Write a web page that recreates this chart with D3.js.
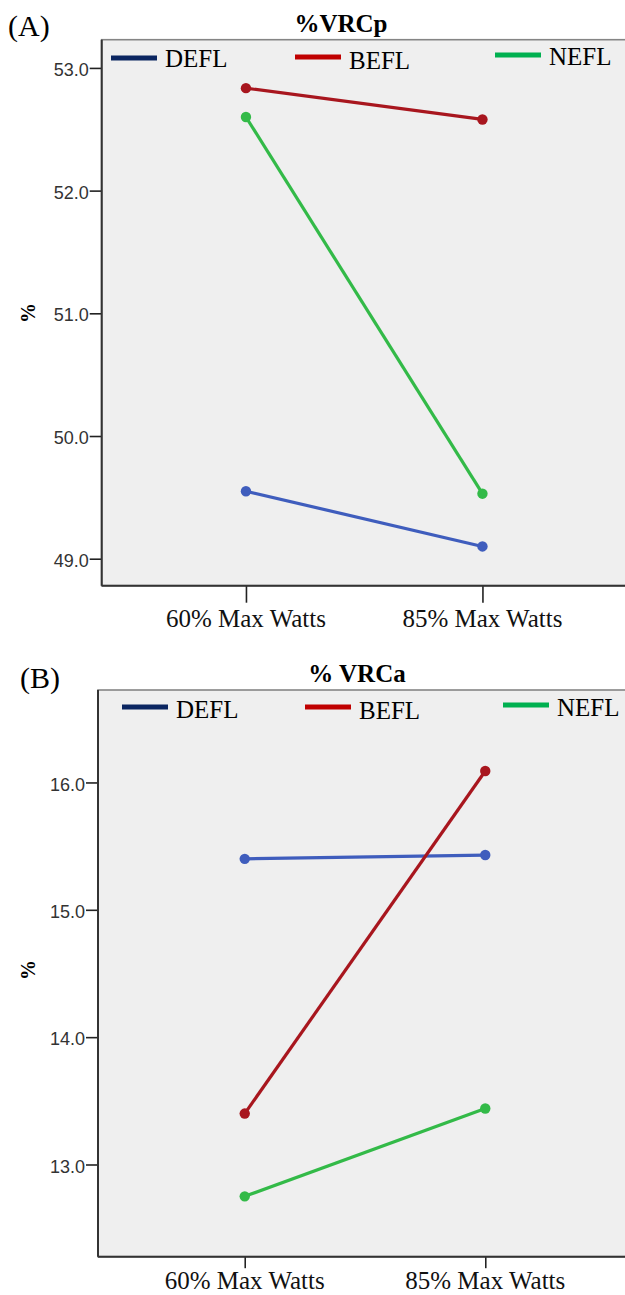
<!DOCTYPE html>
<html>
<head>
<meta charset="utf-8">
<script src="https://cdn.jsdelivr.net/npm/d3@7"></script>
<style>
  html, body { margin: 0; padding: 0; background: #fff; }
  svg { display: block; }
  .tick text { font-family: "Liberation Sans", Arial, sans-serif; }
</style>
</head>
<body>
<svg id="chart" width="625" height="1295"></svg>
<script>
(function() {
    'use strict';

    // data
    var categories = ["60% Max Watts", "85% Max Watts"];
    var groups = ["DEFL", "BEFL", "NEFL"];

    var vrcpDEFL = [49.55, 49.10];
    var vrcpBEFL = [52.835, 52.58];
    var vrcpNEFL = [52.60, 49.53];
    var vrcpTicks = [49, 50, 51, 52, 53];

    var vrcaDEFL = [15.40, 15.43];
    var vrcaBEFL = [13.40, 16.09];
    var vrcaNEFL = [12.75, 13.44];
    var vrcaTicks = [13, 14, 15, 16];

    var lineColor = { DEFL: "#3f5dbd", BEFL: "#a8161e", NEFL: "#33ba48" };
    var keyColor = { DEFL: "#0b2661", BEFL: "#c00000", NEFL: "#00b050" };

    var serif = '"Liberation Serif", "Times New Roman", serif';
    var svg = d3.select("#chart");

    var panels = [
        {
            tag: "(A)", tagX: 8, tagY: 36,
            title: "%VRCp", titleX: 341, titleY: 32,
            series: { DEFL: vrcpDEFL, BEFL: vrcpBEFL, NEFL: vrcpNEFL },
            ticks: vrcpTicks, domain: [48.78, 53.23],
            left: 101.7, top: 39.7, bottom: 585.7, width: 525, xTick: 17,
            labelY: 627, yLabelY: 313,
            keys: [
                { x: 111, ly: 58, ty: 67 },
                { x: 295, ly: 57, ty: 69 },
                { x: 495, ly: 55, ty: 65 }
            ]
        },
        {
            tag: "(B)", tagX: 20, tagY: 688,
            title: "% VRCa", titleX: 357, titleY: 682,
            series: { DEFL: vrcaDEFL, BEFL: vrcaBEFL, NEFL: vrcaNEFL },
            ticks: vrcaTicks, domain: [12.276, 16.726],
            left: 98, top: 690, bottom: 1256.7, width: 534, xTick: 11.5,
            labelY: 1289, yLabelY: 970,
            keys: [
                { x: 122, ly: 707, ty: 718 },
                { x: 305, ly: 707, ty: 719 },
                { x: 503, ly: 705, ty: 716 }
            ]
        }
    ];

    panels.forEach(function(p) {
        var x = d3.scalePoint()
            .domain(categories)
            .range([p.left, p.left + p.width])
            .padding(0.61);

        var y = d3.scaleLinear()
            .domain(p.domain)
            .range([p.bottom, p.top]);

        var g = svg.append("g");

        // plot area
        g.append("rect")
            .attr("x", p.left)
            .attr("y", p.top)
            .attr("width", p.width)
            .attr("height", p.bottom - p.top)
            .attr("fill", "#efefef")
            .attr("stroke", "#858585")
            .attr("stroke-width", 1.6);

        // y axis
        var yAxis = g.append("g")
            .attr("transform", "translate(" + p.left + ",0)")
            .call(d3.axisLeft(y)
                .tickValues(p.ticks)
                .tickFormat(d3.format(".1f"))
                .tickSize(12)
                .tickPadding(1));
        yAxis.select(".domain").remove();
        yAxis.selectAll(".tick line").attr("stroke", "#222").attr("stroke-width", 1.6);
        yAxis.selectAll(".tick text")
            .attr("fill", "#333")
            .attr("font-size", 18)
            .attr("dy", "0.42em");

        // x axis ticks below the frame
        var xAxis = g.append("g")
            .attr("transform", "translate(0," + p.bottom + ")")
            .call(d3.axisBottom(x).tickSize(p.xTick).tickFormat(""));
        xAxis.select(".domain").remove();
        xAxis.selectAll(".tick line").attr("stroke", "#222").attr("stroke-width", 1.6);

        // axis lines
        g.append("line")
            .attr("x1", p.left).attr("x2", p.left)
            .attr("y1", p.top).attr("y2", p.bottom)
            .attr("stroke", "#333").attr("stroke-width", 2);
        g.append("line")
            .attr("x1", p.left).attr("x2", p.left + p.width)
            .attr("y1", p.bottom).attr("y2", p.bottom)
            .attr("stroke", "#333").attr("stroke-width", 2);

        g.selectAll("text.xlab")
            .data(categories)
            .enter().append("text")
            .attr("class", "xlab")
            .attr("x", function(d) { return x(d); })
            .attr("y", p.labelY)
            .attr("text-anchor", "middle")
            .attr("font-family", serif)
            .attr("font-size", 25)
            .attr("fill", "#111")
            .text(function(d) { return d; });

        // lines and points
        var line = d3.line()
            .x(function(d, i) { return x(categories[i]); })
            .y(function(d) { return y(d); });

        groups.forEach(function(name) {
            var vals = p.series[name];
            g.append("path")
                .datum(vals)
                .attr("d", line)
                .attr("fill", "none")
                .attr("stroke", lineColor[name])
                .attr("stroke-width", 3.2);
            g.selectAll("circle." + name)
                .data(vals)
                .enter().append("circle")
                .attr("class", name)
                .attr("cx", function(d, i) { return x(categories[i]); })
                .attr("cy", function(d) { return y(d); })
                .attr("r", 5.2)
                .attr("fill", lineColor[name]);
        });

        // legend
        groups.forEach(function(name, i) {
            var k = p.keys[i];
            g.append("line")
                .attr("x1", k.x).attr("x2", k.x + 46)
                .attr("y1", k.ly).attr("y2", k.ly)
                .attr("stroke", keyColor[name])
                .attr("stroke-width", 5);
            g.append("text")
                .attr("x", k.x + 54)
                .attr("y", k.ty)
                .attr("font-family", serif)
                .attr("font-size", 25)
                .attr("fill", "#000")
                .text(name);
        });

        // titles
        g.append("text")
            .attr("x", p.titleX)
            .attr("y", p.titleY)
            .attr("text-anchor", "middle")
            .attr("font-family", serif)
            .attr("font-weight", "bold")
            .attr("font-size", 25)
            .text(p.title);

        g.append("text")
            .attr("x", p.tagX)
            .attr("y", p.tagY)
            .attr("font-family", serif)
            .attr("font-size", 30)
            .text(p.tag);

        g.append("text")
            .attr("transform", "translate(35," + p.yLabelY + ") rotate(-90)")
            .attr("text-anchor", "middle")
            .attr("font-family", serif)
            .attr("font-weight", "bold")
            .attr("font-size", 20)
            .text("%");
    });
})();
</script>
</body>
</html>
